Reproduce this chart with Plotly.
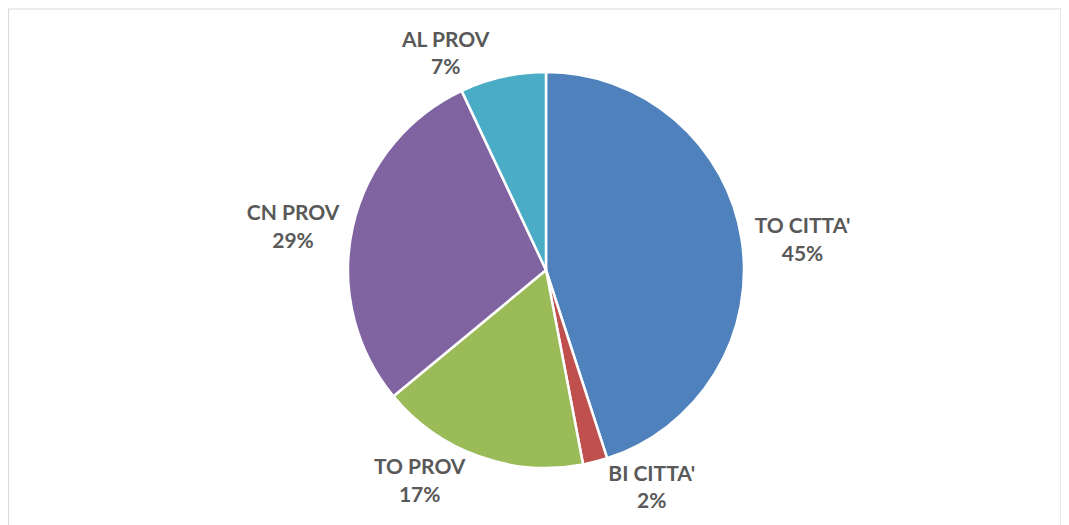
import plotly.graph_objects as go

labels = ["TO CITTA'", "BI CITTA'", "TO PROV", "CN PROV", "AL PROV"]
values = [45, 2, 17, 29, 7]
colors = ["#4F81BD", "#C0504D", "#9BBB59", "#8064A2", "#4BACC6"]

W, H = 1069, 525
off = 8  # page body margin offset
cx, cy, r = 546 - off, 270 - off, 198

fig = go.Figure(go.Pie(
    labels=labels, values=values, sort=False, direction="clockwise", rotation=0,
    marker=dict(colors=colors, line=dict(color="white", width=2.5)),
    textposition="outside", texttemplate="%{label}<br>%{percent:.0%}",
    textfont=dict(family="Lato", size=21, color="#595959", weight="bold"),
    showlegend=False, hoverinfo="label+percent",
    domain=dict(x=[(cx - r) / W, (cx + r) / W], y=[1 - (cy + r) / H, 1 - (cy - r) / H]),
))
fig.add_shape(type="rect", xref="paper", yref="paper", x0=0.5 / W, x1=(1061 - off) / W, y0=-0.05,
              y1=1 - (9 - off) / H, line=dict(color="#D9D9D9", width=1.2), fillcolor="rgba(0,0,0,0)")
fig.update_layout(width=W, height=H, margin=dict(l=0, r=0, t=0, b=0),
                  paper_bgcolor="white", plot_bgcolor="white")
fig.write_html("out.html")
